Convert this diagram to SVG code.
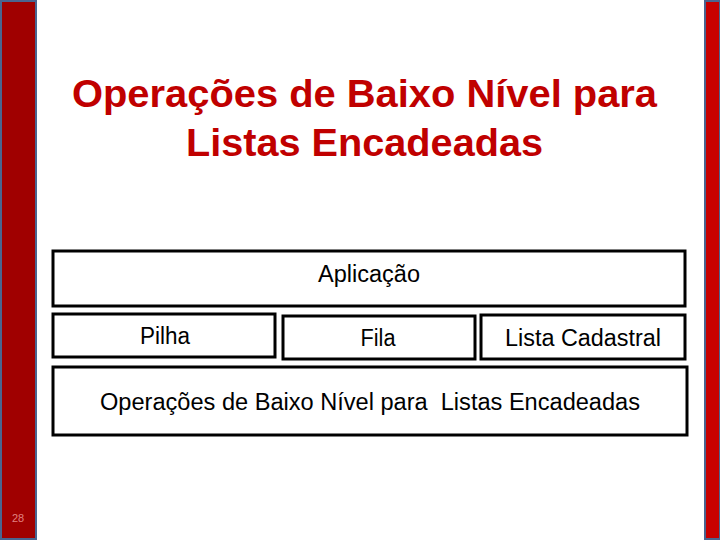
<svg xmlns="http://www.w3.org/2000/svg" width="720" height="540" viewBox="0 0 720 540">
<style>
.box{fill:#fff;stroke:#000;stroke-width:3}
.lbl{font-family:"Liberation Sans",Arial,sans-serif;font-size:23px;fill:#000;text-anchor:middle}
.title{font-family:"Liberation Sans",Arial,sans-serif;font-size:39px;font-weight:bold;fill:#c00000;text-anchor:middle}
</style>
<rect width="720" height="540" fill="#fff"/>
<rect x="1" y="1" width="35" height="538" fill="#a00000" stroke="#4a6590" stroke-width="2"/>
<rect x="705" y="1" width="15" height="538" fill="#c80000" stroke="#4a6590" stroke-width="2"/>
<text x="18" y="522" font-family="Liberation Sans,Arial,sans-serif" font-size="11" fill="#e08080" text-anchor="middle">28</text>
<g id="title">
<text class="title" x="364.5" y="107" textLength="585" lengthAdjust="spacingAndGlyphs">Operações de Baixo Nível para</text>
<text class="title" x="364.5" y="156" textLength="357" lengthAdjust="spacingAndGlyphs">Listas Encadeadas</text>
</g>
<g id="aplicacao"><rect class="box" x="53" y="251" width="632" height="55"/><text class="lbl" x="369" y="282" textLength="102" lengthAdjust="spacingAndGlyphs">Aplicação</text></g>
<g id="pilha"><rect class="box" x="53" y="314" width="222" height="43"/><text class="lbl" x="165" y="344" textLength="50" lengthAdjust="spacingAndGlyphs">Pilha</text></g>
<g id="fila"><rect class="box" x="283" y="316" width="192" height="43"/><text class="lbl" x="378" y="346" textLength="35" lengthAdjust="spacingAndGlyphs">Fila</text></g>
<g id="lista"><rect class="box" x="481" y="315" width="204" height="44"/><text class="lbl" x="583" y="346" textLength="156" lengthAdjust="spacingAndGlyphs">Lista Cadastral</text></g>
<g id="operacoes"><rect class="box" x="53" y="367" width="634" height="68"/><text class="lbl" x="370" y="410" textLength="540" lengthAdjust="spacingAndGlyphs" xml:space="preserve">Operações de Baixo Nível para  Listas Encadeadas</text></g>
<g id="connectors"></g>
</svg>
